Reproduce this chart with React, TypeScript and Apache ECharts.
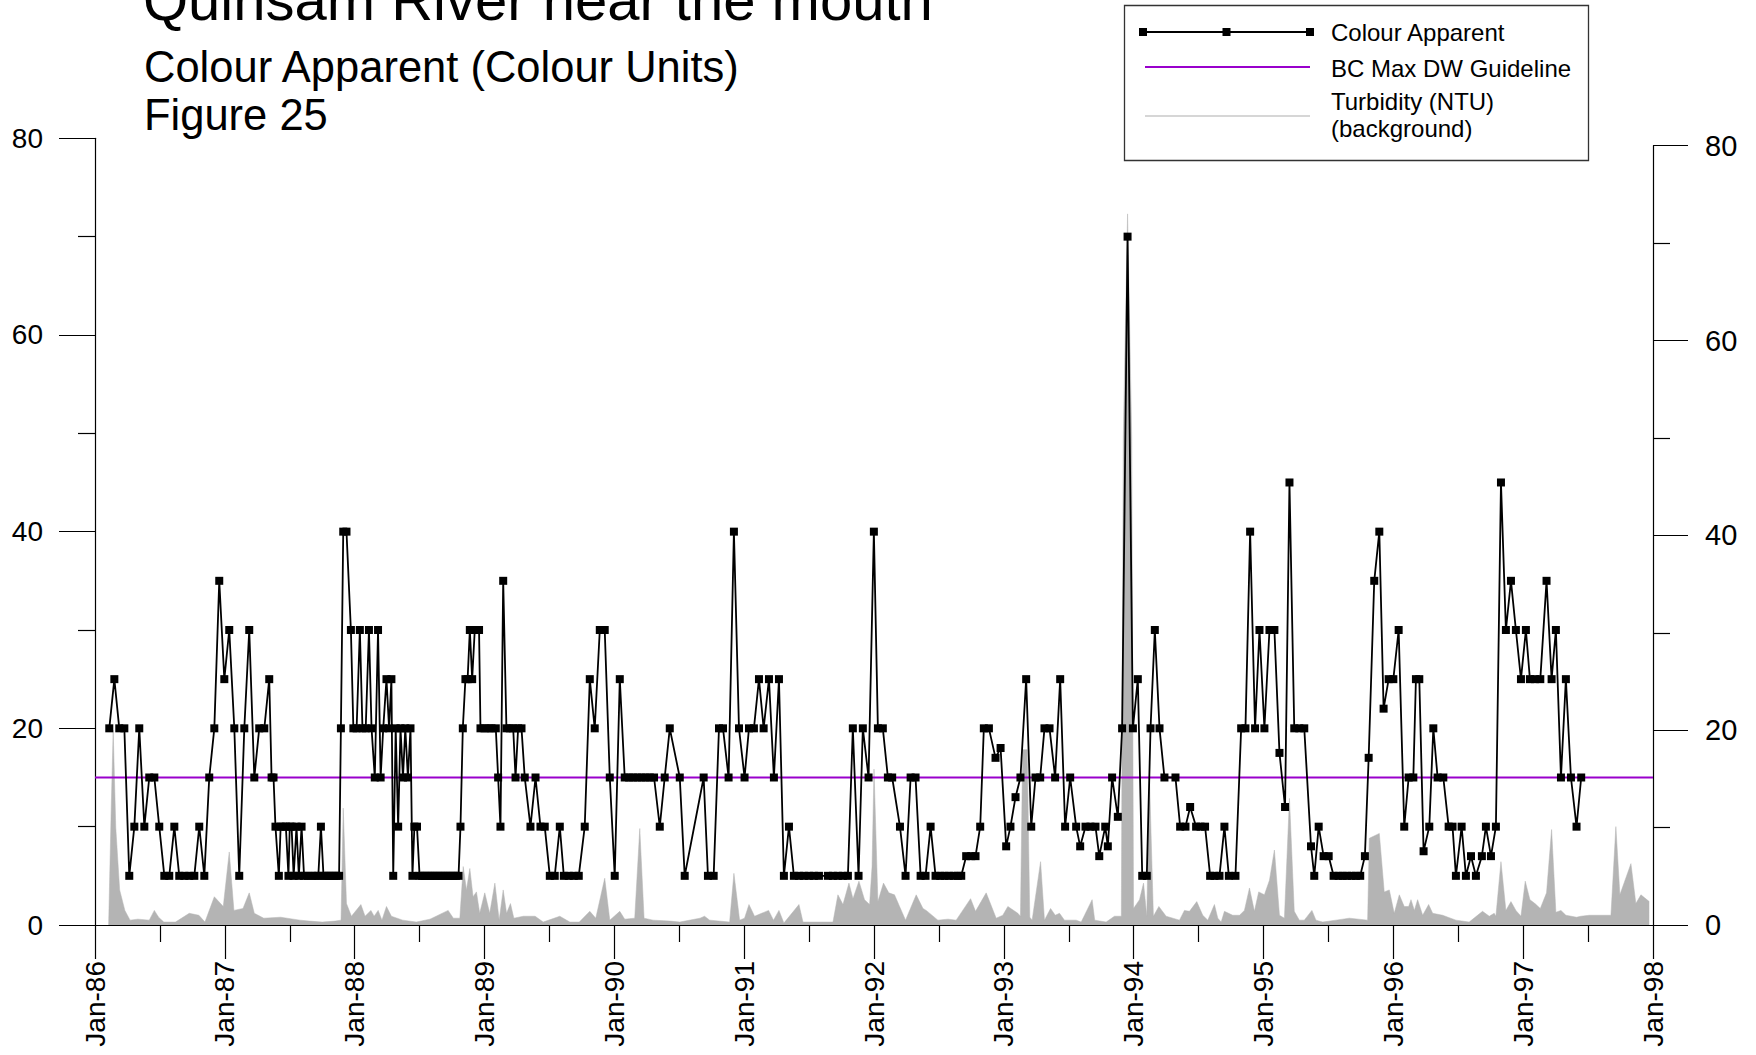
import React, { useEffect, useRef } from 'react';
import * as echarts from 'echarts';

const FONT = '"Liberation Sans", Arial, Helvetica, sans-serif';

const titleText = 'Quinsam River near the mouth';
const subtitleText = 'Colour Apparent (Colour Units)';
const figureText = 'Figure 25';
const legendLabels = ['Colour Apparent', 'BC Max DW Guideline', 'Turbidity (NTU)', '(background)'];

const xMin = 1986;
const xMax = 1998;
const guidelineValue = 15;

// Colour Apparent sampling dates (decimal years) and values (Colour Units)
const colourDates = [
  1986.11, 1986.149, 1986.187, 1986.226, 1986.264, 1986.303, 1986.341, 1986.38, 1986.418, 1986.457,
  1986.495, 1986.534, 1986.572, 1986.611, 1986.649, 1986.688, 1986.726, 1986.765, 1986.803, 1986.842,
  1986.88, 1986.919, 1986.957, 1986.996, 1987.034, 1987.073, 1987.111, 1987.15, 1987.188, 1987.227,
  1987.265, 1987.304, 1987.342,
  1987.36, 1987.375, 1987.39, 1987.416, 1987.43, 1987.45, 1987.47, 1987.49, 1987.5, 1987.514,
  1987.53, 1987.552, 1987.57, 1987.591, 1987.61, 1987.64, 1987.67, 1987.7, 1987.72, 1987.74,
  1987.76, 1987.78, 1987.8, 1987.82, 1987.84, 1987.86, 1987.88, 1987.894, 1987.912, 1987.937,
  1987.971, 1987.99, 1988.015, 1988.04, 1988.06, 1988.085, 1988.11, 1988.13, 1988.155, 1988.18,
  1988.2, 1988.22, 1988.245, 1988.265, 1988.283, 1988.297, 1988.316, 1988.335, 1988.353, 1988.372,
  1988.39, 1988.41, 1988.43, 1988.445, 1988.46, 1988.48, 1988.5, 1988.52, 1988.54, 1988.56,
  1988.58, 1988.6, 1988.62, 1988.64, 1988.66, 1988.68, 1988.7, 1988.72, 1988.74, 1988.76,
  1988.78, 1988.8, 1988.815, 1988.833, 1988.853, 1988.87, 1988.887, 1988.905, 1988.925, 1988.94,
  1988.958, 1988.969, 1989.0, 1989.03, 1989.054, 1989.087, 1989.105, 1989.123, 1989.144,
  1989.169, 1989.195, 1989.221, 1989.239, 1989.259, 1989.285, 1989.31, 1989.354, 1989.393, 1989.431,
  1989.464, 1989.503, 1989.541, 1989.58, 1989.611, 1989.649, 1989.688, 1989.726, 1989.772, 1989.811,
  1989.849, 1989.888, 1989.926, 1989.965, 1990.003, 1990.042, 1990.08, 1990.114, 1990.144, 1990.178,
  1990.209, 1990.242, 1990.273, 1990.306, 1990.35, 1990.388, 1990.427, 1990.504, 1990.542,
  1990.688, 1990.721, 1990.765, 1990.806, 1990.837, 1990.88, 1990.921, 1990.96, 1991.003, 1991.037,
  1991.075, 1991.114, 1991.15, 1991.191, 1991.229, 1991.268, 1991.306, 1991.345, 1991.383, 1991.422,
  1991.46, 1991.499, 1991.537, 1991.576, 1991.645, 1991.683, 1991.722, 1991.76, 1991.799, 1991.837,
  1991.881, 1991.914, 1991.958, 1991.999, 1992.03, 1992.068, 1992.107, 1992.14,
  1992.2, 1992.243, 1992.282, 1992.32, 1992.359, 1992.397, 1992.436, 1992.474, 1992.51, 1992.543,
  1992.577, 1992.613, 1992.646, 1992.672, 1992.71, 1992.749, 1992.782, 1992.818, 1992.846, 1992.885,
  1992.936, 1992.975, 1993.018, 1993.051, 1993.09, 1993.128, 1993.172, 1993.211, 1993.244, 1993.28,
  1993.313, 1993.352, 1993.395, 1993.434, 1993.472, 1993.511, 1993.557, 1993.588, 1993.629, 1993.667,
  1993.706, 1993.735,
  1993.781, 1993.801, 1993.834, 1993.878, 1993.911, 1993.953, 1993.994, 1994.032, 1994.066, 1994.101,
  1994.13, 1994.163, 1994.199, 1994.237, 1994.322, 1994.358, 1994.399, 1994.435, 1994.481, 1994.515,
  1994.55, 1994.589, 1994.622, 1994.661, 1994.699, 1994.733, 1994.784, 1994.828, 1994.861, 1994.897,
  1994.935, 1994.969, 1995.007, 1995.046, 1995.084, 1995.123, 1995.166, 1995.2,
  1995.237, 1995.276, 1995.314, 1995.366, 1995.391, 1995.425, 1995.463, 1995.502, 1995.54, 1995.579,
  1995.61, 1995.643, 1995.679, 1995.712, 1995.745, 1995.781, 1995.81, 1995.853, 1995.892, 1995.925,
  1995.964, 1996.0, 1996.041, 1996.084, 1996.118, 1996.154, 1996.174, 1996.2, 1996.233, 1996.277,
  1996.308, 1996.341, 1996.385, 1996.426, 1996.456, 1996.482, 1996.526, 1996.559, 1996.598, 1996.636,
  1996.682, 1996.713, 1996.752, 1996.79,
  1996.829, 1996.867, 1996.906, 1996.944, 1996.983, 1997.021, 1997.052, 1997.091, 1997.132, 1997.18,
  1997.219, 1997.252, 1997.291, 1997.329, 1997.368, 1997.411, 1997.447,
];

const colourValues = [
  20, 25, 20, 20, 5, 10, 20, 10, 15, 15,
  10, 5, 5, 10, 5, 5, 5, 5, 10, 5,
  15, 20, 35, 25, 30, 20, 5, 20, 30, 15,
  20, 20, 25,
  15, 15, 10, 5, 10, 10, 10, 5, 10, 10,
  5, 10, 5, 10, 5, 5, 5, 5, 5, 10,
  5, 5, 5, 5, 5, 5, 5, 20, 40, 40,
  30, 20, 20, 30, 20, 20, 30, 20, 15, 30,
  15, 20, 25, 20, 25, 5, 20, 10, 20, 15,
  20, 15, 20, 5, 10, 10, 5, 5, 5, 5,
  5, 5, 5, 5, 5, 5, 5, 5, 5, 5,
  5, 5, 10, 20, 25, 25, 30, 25, 30, 30,
  30, 20, 20, 20, 20, 20, 15, 10, 35,
  20, 20, 20, 15, 20, 20, 15, 10, 15, 10,
  10, 5, 5, 10, 5, 5, 5, 5, 10, 25,
  20, 30, 30, 15, 5, 25, 15, 15, 15, 15,
  15, 15, 15, 15, 10, 15, 20, 15, 5,
  15, 5, 5, 20, 20, 15, 40, 20, 15, 20,
  20, 25, 20, 25, 15, 25, 5, 10, 5, 5,
  5, 5, 5, 5, 5, 5, 5, 5, 5, 20,
  5, 20, 15, 40, 20, 20, 15, 15,
  10, 5, 15, 15, 5, 5, 10, 5, 5, 5,
  5, 5, 5, 5, 7, 7, 7, 10, 20, 20,
  17, 18, 8, 10, 13, 15, 25, 10, 15, 15,
  20, 20, 15, 25, 10, 15, 10, 8, 10, 10,
  10, 7,
  10, 8, 15, 11, 20, 70, 20, 25, 5, 5,
  20, 30, 20, 15, 15, 10, 10, 12, 10, 10,
  10, 5, 5, 5, 10, 5, 5, 20, 20, 40,
  20, 30, 20, 30, 30, 17.5, 12, 45,
  20, 20, 20, 8, 5, 10, 7, 7, 5, 5,
  5, 5, 5, 5, 5, 7, 17, 35, 40, 22,
  25, 25, 30, 10, 15, 15, 25, 25, 7.5, 10,
  20, 15, 15, 10, 10, 5, 10, 5, 7, 5,
  7, 10, 7, 10,
  45, 30, 35, 30, 25, 30, 25, 25, 25, 35,
  25, 30, 15, 25, 15, 10, 15,
];

// Turbidity (NTU) background series, decimal years and values
const turbidityDates = [
  1986.105, 1986.125, 1986.14, 1986.16, 1986.19, 1986.23, 1986.27, 1986.33, 1986.418, 1986.457,
  1986.49, 1986.53, 1986.62, 1986.726, 1986.8, 1986.847, 1986.919, 1986.988, 1987.034, 1987.07,
  1987.14, 1987.188, 1987.227, 1987.3, 1987.43, 1987.578, 1987.65, 1987.75, 1987.85, 1987.895,
  1987.912, 1987.937, 1987.975, 1988.048, 1988.08, 1988.125, 1988.15, 1988.181, 1988.21, 1988.245,
  1988.283, 1988.37, 1988.475, 1988.58, 1988.72, 1988.76, 1988.81, 1988.836, 1988.861, 1988.887,
  1988.912, 1988.938, 1988.963, 1989.002, 1989.04, 1989.08, 1989.113, 1989.144, 1989.17, 1989.2,
  1989.226, 1989.3, 1989.39, 1989.452, 1989.58, 1989.657, 1989.73, 1989.811, 1989.857, 1989.926,
  1989.965, 1990.042, 1990.08, 1990.157, 1990.196, 1990.229, 1990.298, 1990.427, 1990.504, 1990.66,
  1990.695, 1990.734, 1990.888, 1990.921, 1990.965, 1991.003, 1991.037, 1991.08, 1991.188, 1991.226,
  1991.268, 1991.306, 1991.422, 1991.453, 1991.607, 1991.684, 1991.722, 1991.761, 1991.807, 1991.838,
  1991.884, 1991.927, 1991.966, 1991.985, 1992.0, 1992.03, 1992.073, 1992.114, 1992.158, 1992.197,
  1992.243, 1992.325, 1992.377, 1992.402, 1992.492, 1992.57, 1992.633, 1992.744, 1992.782, 1992.864,
  1992.941, 1992.992, 1993.031, 1993.108, 1993.128, 1993.145, 1993.18, 1993.2, 1993.218, 1993.283,
  1993.313, 1993.36, 1993.396, 1993.429, 1993.467, 1993.557, 1993.596, 1993.68, 1993.7, 1993.788,
  1993.852, 1993.905, 1993.92, 1993.953, 1993.985, 1993.999, 1994.045, 1994.076, 1994.101, 1994.122,
  1994.152, 1994.194, 1994.25, 1994.353, 1994.391, 1994.43, 1994.486, 1994.532, 1994.571, 1994.622,
  1994.648, 1994.674, 1994.699, 1994.763, 1994.815, 1994.853, 1994.892, 1994.93, 1994.963, 1995.007,
  1995.046, 1995.084, 1995.123, 1995.161, 1995.2, 1995.237, 1995.276, 1995.314, 1995.373, 1995.404,
  1995.456, 1995.558, 1995.661, 1995.802, 1995.815, 1995.892, 1995.93, 1995.969, 1996.007, 1996.046,
  1996.084, 1996.118, 1996.136, 1996.162, 1996.187, 1996.226, 1996.272, 1996.303, 1996.38, 1996.482,
  1996.584, 1996.687, 1996.739, 1996.777, 1996.79, 1996.829, 1996.867, 1996.906, 1996.944, 1996.983,
  1997.016, 1997.052, 1997.091, 1997.132, 1997.18, 1997.219, 1997.252, 1997.291, 1997.329, 1997.411,
  1997.445, 1997.509, 1997.637, 1997.676, 1997.714, 1997.745, 1997.83, 1997.868, 1997.907, 1997.971,
];

const turbidityValues = [
  0, 12, 20, 10, 3.6, 1.5, 0.5, 0.6, 0.5, 1.5,
  0.8, 0.3, 0.3, 1.2, 1.0, 0.3, 2.9, 1.9, 7.5, 1.5,
  1.7, 3.3, 1.2, 0.7, 0.8, 0.5, 0.4, 0.3, 0.4, 0.5,
  12, 2.2, 0.9, 2.1, 0.9, 1.5, 0.9, 1.5, 0.5, 1.9,
  0.9, 0.5, 0.3, 0.6, 1.5, 0.7, 0.7, 6, 3.6, 5.8,
  2.9, 3.4, 1.2, 3.3, 1.2, 4.3, 0.5, 3.6, 1.2, 2.2,
  0.7, 0.9, 0.9, 0.3, 0.9, 0.3, 0.3, 1.4, 0.7, 4.8,
  0.5, 1.4, 0.6, 0.7, 9.9, 0.7, 0.5, 0.4, 0.3, 0.7,
  0.9, 0.5, 0.3, 5.3, 0.5, 0.7, 2.1, 0.9, 1.5, 0.5,
  1.5, 0.2, 2.1, 0.3, 0.3, 0.3, 3.1, 2.1, 4.3, 2.7,
  4.5, 2.6, 2.1, 6, 16, 2.4, 4.3, 3.3, 3.1, 1.9,
  0.5, 3.1, 1.7, 1.5, 0.5, 0.6, 0.5, 2.7, 1.4, 3.3,
  0.7, 1.0, 1.9, 1.2, 0.9, 18, 18, 0.8, 0.5, 6.5,
  0.5, 1.7, 1.0, 1.2, 0.5, 0.5, 0.3, 2.6, 0.5, 0.3,
  0.9, 0.9, 50, 73, 50, 1.7, 2.6, 4.3, 0.9, 15,
  0.9, 1.9, 0.9, 0.5, 1.5, 1.4, 2.4, 1.0, 0.5, 2.1,
  0.7, 0.3, 1.4, 1.0, 1.0, 1.5, 3.8, 1.4, 3.4, 3.1,
  4.6, 7.7, 1.0, 0.7, 13, 1.4, 0.5, 0.5, 1.5, 0.5,
  0.3, 0.5, 0.7, 0.5, 8.9, 9.4, 3.4, 3.6, 1.2, 3.1,
  1.9, 1.9, 2.6, 1.5, 2.6, 1.0, 2.1, 1.2, 1.0, 0.5,
  0.3, 1.4, 0.9, 1.2, 0.9, 6.5, 1.5, 2.4, 1.5, 0.9,
  4.5, 2.6, 2.2, 1.7, 3.3, 9.8, 1.3, 1.5, 1.0, 0.8,
  0.9, 1.0, 1.0, 1.0, 10.1, 3.1, 6.3, 2.2, 3.1, 2.4,
];

const leftAxis = { min: 0, max: 80, interval: 20 };
const rightAxis = { min: 0, max: 80, interval: 20 };

const App: React.FC = () => {
  const ref = useRef<HTMLDivElement>(null);

  useEffect(() => {
    if (!ref.current) return;
    const chart = echarts.init(ref.current, undefined, { renderer: 'svg' });

    const colourData = colourDates.map((d, i) => [d, colourValues[i]]);
    const turbidityData = turbidityDates.map((d, i) => [d, turbidityValues[i]]);
    const guidelineData = [[xMin, guidelineValue], [xMax, guidelineValue]];

    const axisLineStyle = { color: '#000', width: 1.2 };
    const legendText = (text: string, y: number) => ({
      type: 'text',
      x: 1331,
      y,
      style: { text, fontSize: 24, fontFamily: FONT, fill: '#000', verticalAlign: 'middle' },
      z: 11,
    });
    const legendMarker = (cx: number) => ({
      type: 'rect',
      shape: { x: cx - 4, y: 28, width: 8, height: 8 },
      style: { fill: '#000' },
      z: 11,
    });

    const option: any = {
      animation: false,
      backgroundColor: '#fff',
      grid: [
        { left: 95, top: 138.3, width: 1558, height: 786.7 },
        { left: 95, top: 145.7, width: 1558, height: 779.3 },
      ],
      xAxis: [
        {
          type: 'value',
          gridIndex: 0,
          min: xMin,
          max: xMax,
          interval: 1,
          axisLine: { show: true, lineStyle: axisLineStyle },
          axisTick: { show: true, length: 34, lineStyle: axisLineStyle },
          minorTick: { show: true, splitNumber: 2, length: 17, lineStyle: axisLineStyle },
          splitLine: { show: false },
          axisLabel: {
            rotate: 90,
            margin: 36,
            fontSize: 28,
            fontFamily: FONT,
            color: '#000',
            formatter: (v: number) => 'Jan-' + String(Math.round(v)).slice(2),
          },
        },
        {
          type: 'value',
          gridIndex: 1,
          min: xMin,
          max: xMax,
          show: false,
        },
      ],
      yAxis: [
        {
          type: 'value',
          gridIndex: 0,
          position: 'left',
          min: leftAxis.min,
          max: leftAxis.max,
          interval: leftAxis.interval,
          axisLine: { show: true, lineStyle: axisLineStyle },
          axisTick: { show: true, length: 36, lineStyle: axisLineStyle },
          minorTick: { show: true, splitNumber: 2, length: 17, lineStyle: axisLineStyle },
          splitLine: { show: false },
          axisLabel: { margin: 52, fontSize: 28, fontFamily: FONT, color: '#000' },
        },
        {
          type: 'value',
          gridIndex: 1,
          position: 'right',
          min: rightAxis.min,
          max: rightAxis.max,
          interval: rightAxis.interval,
          axisLine: { show: true, lineStyle: axisLineStyle },
          axisTick: { show: true, length: 35, lineStyle: axisLineStyle },
          minorTick: { show: true, splitNumber: 2, length: 17, lineStyle: axisLineStyle },
          splitLine: { show: false },
          axisLabel: { margin: 52, fontSize: 29, fontFamily: FONT, color: '#000' },
        },
      ],
      series: [
        {
          name: 'Turbidity (NTU)',
          type: 'line',
          xAxisIndex: 1,
          yAxisIndex: 1,
          data: turbidityData,
          showSymbol: false,
          symbol: 'none',
          lineStyle: { color: '#b4b4b4', width: 0.5 },
          areaStyle: { color: '#b4b4b4', opacity: 1 },
          z: 1,
        },
        {
          name: 'BC Max DW Guideline',
          type: 'line',
          xAxisIndex: 0,
          yAxisIndex: 0,
          data: guidelineData,
          symbol: 'none',
          lineStyle: { color: '#9900cc', width: 2 },
          z: 3,
        },
        {
          name: 'Colour Apparent',
          type: 'line',
          xAxisIndex: 0,
          yAxisIndex: 0,
          data: colourData,
          symbol: 'rect',
          symbolSize: 8,
          itemStyle: { color: '#000' },
          lineStyle: { color: '#000', width: 1.8 },
          z: 4,
        },
      ],
      graphic: [
        {
          type: 'text',
          x: 143,
          y: -1,
          style: { text: titleText, fontSize: 58, fontFamily: FONT, fill: '#000', verticalAlign: 'middle' },
        },
        {
          type: 'text',
          x: 144,
          y: 67,
          style: { text: subtitleText, fontSize: 43.5, fontFamily: FONT, fill: '#000', verticalAlign: 'middle' },
        },
        {
          type: 'text',
          x: 144,
          y: 115,
          style: { text: figureText, fontSize: 43.5, fontFamily: FONT, fill: '#000', verticalAlign: 'middle' },
        },
        {
          type: 'rect',
          shape: { x: 1124.5, y: 5.5, width: 464, height: 155 },
          style: { fill: '#fff', stroke: '#333', lineWidth: 1.3 },
          z: 10,
        },
        {
          type: 'line',
          shape: { x1: 1143, y1: 32, x2: 1310, y2: 32 },
          style: { stroke: '#000', lineWidth: 2 },
          z: 11,
        },
        legendMarker(1143),
        legendMarker(1226.5),
        legendMarker(1310),
        legendText(legendLabels[0], 32),
        {
          type: 'line',
          shape: { x1: 1145, y1: 67, x2: 1310, y2: 67 },
          style: { stroke: '#9900cc', lineWidth: 2 },
          z: 11,
        },
        legendText(legendLabels[1], 68),
        {
          type: 'line',
          shape: { x1: 1145, y1: 116, x2: 1310, y2: 116 },
          style: { stroke: '#c8c8c8', lineWidth: 1.5 },
          z: 11,
        },
        legendText(legendLabels[2], 101),
        legendText(legendLabels[3], 128),
      ],
    };

    chart.setOption(option);
    return () => {
      chart.dispose();
    };
  }, []);

  return (
    <div
      ref={ref}
      style={{ position: 'fixed', left: 0, top: 0, width: 1756, height: 1055, background: '#fff' }}
    />
  );
};

export default App;
